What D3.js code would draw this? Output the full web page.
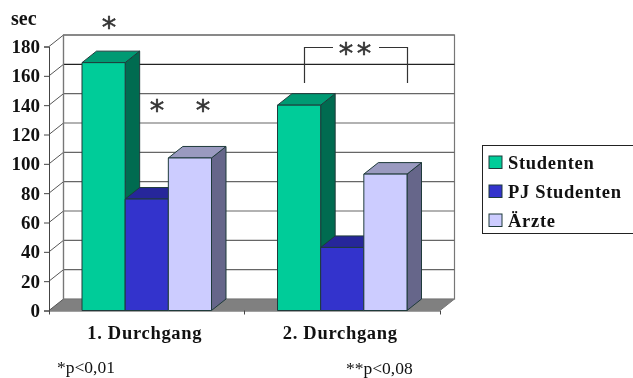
<!DOCTYPE html>
<meta charset="utf-8">
<style>
  html, body { margin: 0; background: #fff; }
  svg { display: block; filter: blur(0.5px); }
  text { font-family: "Liberation Serif", serif; font-weight: bold; fill: #111; }
  .note { font-weight: normal; }
</style>
<svg width="633" height="378"></svg>

<script src="https://d3js.org/d3.v7.min.js"></script>
<script>

var categories = ["1. Durchgang", "2. Durchgang"];
var seriesNames = ["Studenten", "PJ Studenten", "Ärzte"];
var studenten = [169, 140];
var pjStudenten = [76, 43];
var aerzte = [104, 93];
var yTicks = [0, 20, 40, 60, 80, 100, 120, 140, 160, 180];

var allSeries = [studenten, pjStudenten, aerzte];
var frontColors = ["#00cc99", "#3333cc", "#ccccff"];
var topColors = ["#009a73", "#26269a", "#9a9ac0"];
var sideColors = ["#006b50", "#1c1c70", "#66668a"];

// the depth of the 3d box
var DX = 14.5, DY = -11.5;

var svg = d3.select("svg");

var y = d3.scaleLinear().domain([0, 180]).range([310.5, 46.5]);
var x0 = d3.scaleBand().domain(categories).range([49, 440]);
var x1 = d3.scaleBand().domain(d3.range(3)).range([33, 162.5]);

function pts(list) {
  return list.map(function (p) { return p.join(","); }).join(" ");
}

// walls and floor
var left = 49, right = 440;
svg.append("polygon")
  .attr("points", pts([[left, y(0)], [right, y(0)], [right + DX, y(0) + DY], [left + DX, y(0) + DY]]))
  .attr("fill", "#808080");
svg.append("rect")
  .attr("x", left + DX).attr("y", y(180) + DY)
  .attr("width", right - left).attr("height", y(0) - y(180))
  .attr("fill", "#fff").attr("stroke", "#777").attr("stroke-width", 1.2);

// gridlines on the back wall, and their slanted part on the side wall
svg.append("g").selectAll("line")
  .data(yTicks.slice(1))
  .enter().append("line")
    .attr("x1", left + DX).attr("x2", right + DX)
    .attr("y1", function (d) { return y(d) + DY; })
    .attr("y2", function (d) { return y(d) + DY; })
    .attr("stroke", function (d) { return d === 160 ? "#222" : "#666"; })
    .attr("stroke-width", 1.2);

svg.append("g").selectAll("line")
  .data(yTicks)
  .enter().append("line")
    .attr("x1", left).attr("x2", left + DX)
    .attr("y1", function (d) { return y(d); })
    .attr("y2", function (d) { return y(d) + DY; })
    .attr("stroke", "#555");

svg.append("line")
  .attr("x1", left + DX).attr("x2", left + DX)
  .attr("y1", y(0) + DY).attr("y2", y(180) + DY)
  .attr("stroke", "#777").attr("stroke-width", 1.2);
svg.append("line")
  .attr("x1", right).attr("x2", right + DX)
  .attr("y1", y(0)).attr("y2", y(0) + DY)
  .attr("stroke", "#777");

// axes
var yAxis = d3.axisLeft(y).tickValues(yTicks).tickSize(5).tickPadding(4);
var gy = svg.append("g").attr("transform", "translate(" + left + ",0)").call(yAxis);
gy.selectAll("path, line").attr("stroke", "#444");
gy.selectAll("text").style("font-size", "19px").attr("fill", "#111");

var xAxis = d3.axisBottom(x0).tickValues([]).tickSizeOuter(4);
var gx = svg.append("g").attr("transform", "translate(0," + y(0) + ")").call(xAxis);
gx.select("path").attr("stroke", "#444");
gx.append("line")
  .attr("x1", x0(categories[1])).attr("x2", x0(categories[1]))
  .attr("y2", 4).attr("stroke", "#444");

svg.selectAll(".cat")
  .data(categories)
  .enter().append("text")
    .attr("class", "cat")
    .attr("x", function (d) { return x0(d) + x0.bandwidth() / 2 - 2; })
    .attr("y", 339)
    .attr("text-anchor", "middle")
    .style("font-size", "18.5px")
    .style("letter-spacing", "0.7px")
    .text(function (d) { return d; });

// bars
categories.forEach(function (cat, c) {
  allSeries.forEach(function (values, s) {
    var xa = x0(cat) + x1(s), xb = xa + x1.bandwidth();
    var top = y(values[c]), base = y(0);
    var g = svg.append("g")
      .attr("stroke", "#1f3b3b").attr("stroke-width", 1).attr("stroke-linejoin", "round");
    g.append("polygon")
      .attr("points", pts([[xb, base], [xb + DX, base + DY], [xb + DX, top + DY], [xb, top]]))
      .attr("fill", sideColors[s]);
    g.append("polygon")
      .attr("points", pts([[xa, top], [xa + DX, top + DY], [xb + DX, top + DY], [xb, top]]))
      .attr("fill", topColors[s]);
    g.append("rect")
      .attr("x", xa).attr("y", top)
      .attr("width", xb - xa).attr("height", base - top)
      .attr("fill", frontColors[s]);
  });
});

// sec label and significance marks
svg.append("text").attr("x", 11).attr("y", 25).style("font-size", "20px").text("sec");

var stars = [[109, 37], [157, 120], [203, 120], [346, 63], [364, 63]];
svg.selectAll(".star")
  .data(stars)
  .enter().append("text")
    .attr("class", "star note")
    .attr("x", function (d) { return d[0]; })
    .attr("y", function (d) { return d[1]; })
    .attr("text-anchor", "middle")
    .style("font-family", "DejaVu Sans")
    .style("font-size", "29px")
    .style("fill", "#333")
    .style("stroke", "#333")
    .style("stroke-width", "0.5px")
    .text("*");

svg.append("path")
  .attr("d", "M304.5,83V47.5H333M379,47.5H407.5V83")
  .attr("fill", "none").attr("stroke", "#333").attr("stroke-width", 1.2);

svg.append("text").attr("class", "note").attr("x", 57).attr("y", 373).style("font-size", "17.5px").text("*p<0,01");
svg.append("text").attr("class", "note").attr("x", 346).attr("y", 374).style("font-size", "17.5px").text("**p<0,08");

// legend
var legend = svg.append("g");
legend.append("rect")
  .attr("x", 482.5).attr("y", 145.5).attr("width", 160).attr("height", 88)
  .attr("fill", "#fff").attr("stroke", "#222");
var rows = legend.selectAll("g")
  .data(seriesNames)
  .enter().append("g")
    .attr("transform", function (d, i) { return "translate(489," + (156 + i * 29) + ")"; });
rows.append("rect")
  .attr("width", 13).attr("height", 12.5)
  .attr("fill", function (d, i) { return frontColors[i]; })
  .attr("stroke", "#1f3b3b");
rows.append("text")
  .attr("x", 19).attr("y", 13)
  .style("font-size", "18.5px")
  .style("letter-spacing", "0.7px")
  .text(function (d) { return d; });

</script>
